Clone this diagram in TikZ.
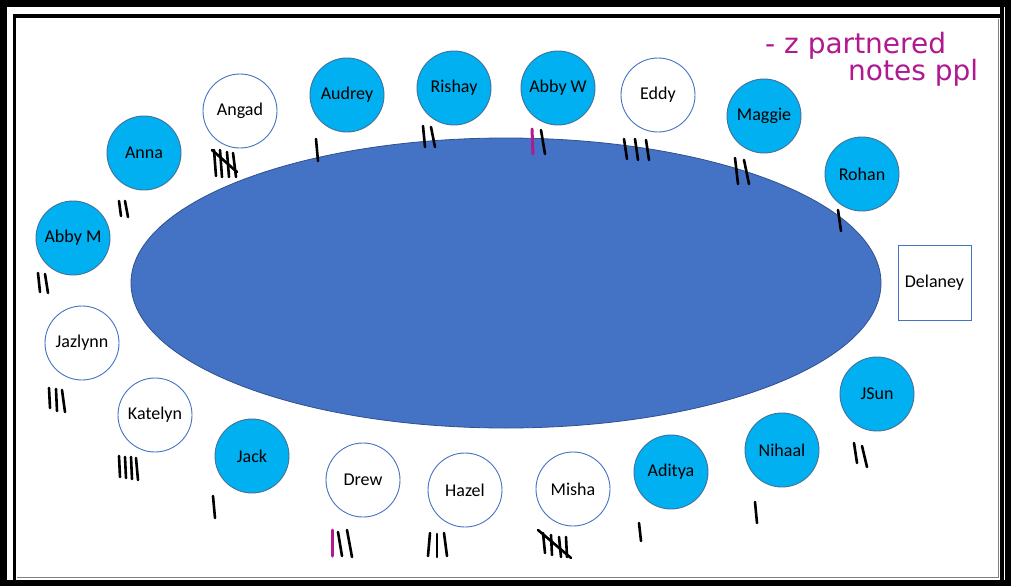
\documentclass[tikz,border=0pt]{standalone}
\usepackage{fontspec}
\setmainfont{Carlito}
\newfontfamily\handfont{DejaVu Sans}
\usetikzlibrary{shapes.geometric}
\definecolor{seatblue}{HTML}{00B0F0}
\definecolor{seatedge}{HTML}{41719C}
\definecolor{tableblue}{HTML}{4472C4}
\definecolor{tableedge}{HTML}{2F528F}
\definecolor{penpink}{HTML}{B0198F}
\tikzset{
  seat/.style={circle, inner sep=0pt, minimum size=74pt, line width=0.9pt, font=\fontsize{18}{20}\selectfont},
  filled/.style={seat, fill=seatblue, draw=seatedge},
  empty/.style={seat, fill=white, draw=tableblue},
  tally/.style={line width=2.6pt, black, line cap=round},
  ptally/.style={line width=3pt, penpink, line cap=round},
  hand/.style={anchor=base west, text=penpink, inner sep=0pt, font=\handfont\fontsize{28}{30}\selectfont},
}
\begin{document}
\begin{tikzpicture}[x=1pt,y=-1pt]
\useasboundingbox (0,0) rectangle (1011,586);
% frame
\fill[black] (0,0) rectangle (1011,586);
\fill[white] (7,7) rectangle (1000,580);
\fill[black] (13,14) rectangle (1000,18);
\fill[black] (13,14) rectangle (16,580);
\draw[gray, line width=0.8pt] (17,19) rectangle (998,577);
\fill[white] (16,19.4) rectangle (997.6,576.6);
\draw[white, line width=1pt] (1004,7) -- (1004,580);
% table
\node[ellipse, inner sep=0pt, minimum width=750pt, minimum height=290pt, fill=tableblue, draw=tableedge, line width=0.8pt] (table) at (506,283) {};
% seats
\node[empty]  (angad)   at (240,111) {Angad};
\node[filled] (audrey)  at (347,95)  {Audrey};
\node[filled] (rishay)  at (454,88)  {Rishay};
\node[filled] (abbyw)   at (558,88)  {Abby W};
\node[empty]  (eddy)    at (658,95)  {Eddy};
\node[filled] (maggie)  at (764,116) {Maggie};
\node[filled] (rohan)   at (862,174) {Rohan};
\node[filled] (anna)    at (144,153) {Anna};
\node[filled] (abbym)   at (73,238)  {Abby M};
\node[empty]  (jazlynn) at (82,343)  {Jazlynn};
\node[empty]  (katelyn) at (155,415) {Katelyn};
\node[filled] (jack)    at (252,456) {Jack};
\node[empty]  (drew)    at (363,480) {Drew};
\node[empty]  (hazel)   at (465,490) {Hazel};
\node[empty]  (misha)   at (573,489) {Misha};
\node[filled] (aditya)  at (671,472) {Aditya};
\node[filled] (nihaal)  at (782,450) {Nihaal};
\node[filled] (jsun)    at (877,394) {JSun};
\node[rectangle, draw=tableblue, line width=0.9pt, fill=white, minimum width=73pt, minimum height=75pt, inner sep=0pt, font=\fontsize{18}{20}\selectfont] (delaney) at (934.5,282.5) {Delaney};
% handwritten note
\node[hand] (note1) at (765,53) {- z partnered};
\node[hand] (note2) at (848,81) {notes ppl};
% tallies
% Angad (5)
\draw[tally] (214,150) -- (216,176);
\draw[tally] (220,150) -- (222,177);
\draw[tally] (227,152) -- (229,177);
\draw[tally] (233,153) -- (236,177);
\draw[tally] (212,150) -- (237,172);
% Audrey
\draw[tally] (316,139) -- (318,161);
% Rishay
\draw[tally] (423,126) -- (425,147);
\draw[tally] (431,127) -- (435,147);
% Abby W
\draw[ptally] (532,129) -- (533,154);
\draw[tally] (541,130) -- (545,154);
% Eddy
\draw[tally] (624,139) -- (627,159);
\draw[tally] (635,139) -- (638,160);
\draw[tally] (646,140) -- (649,160);
% Maggie
\draw[tally] (735,158) -- (738,184);
\draw[tally] (744,160) -- (749,184);
% Rohan
\draw[tally] (838,210) -- (841,231);
% Anna
\draw[tally] (119,201) -- (121,216);
\draw[tally] (125,201) -- (128,217);
% Abby M
\draw[tally] (38,273) -- (40,292);
\draw[tally] (45,274) -- (48,293);
% Jazlynn
\draw[tally] (49,388) -- (50,408);
\draw[tally] (56,389) -- (57,411);
\draw[tally] (62,390) -- (65,412);
% Katelyn
\draw[tally] (119,456) -- (120,477);
\draw[tally] (125,457) -- (126,478);
\draw[tally] (131,457) -- (132,479);
\draw[tally] (136,458) -- (138,480);
% Jack
\draw[tally] (213,496) -- (215,518);
% Drew
\draw[ptally] (332,530) -- (332,556);
\draw[tally] (338,532) -- (342,556);
\draw[tally] (347,530) -- (352,557);
% Hazel
\draw[tally] (430,533) -- (428,556);
\draw[tally] (437,534) -- (437,557);
\draw[tally] (444,533) -- (447,556);
% Misha (5)
\draw[tally] (543,533) -- (545,553);
\draw[tally] (551,535) -- (552,555);
\draw[tally] (559,537) -- (561,557);
\draw[tally] (566,537) -- (567,557);
\draw[tally] (538,530) -- (571,558);
% Aditya
\draw[tally] (639,523) -- (641,541);
% Nihaal
\draw[tally] (755,502) -- (757,523);
% JSun
\draw[tally] (854,443) -- (857,463);
\draw[tally] (862,446) -- (867,467);
\end{tikzpicture}
\end{document}
